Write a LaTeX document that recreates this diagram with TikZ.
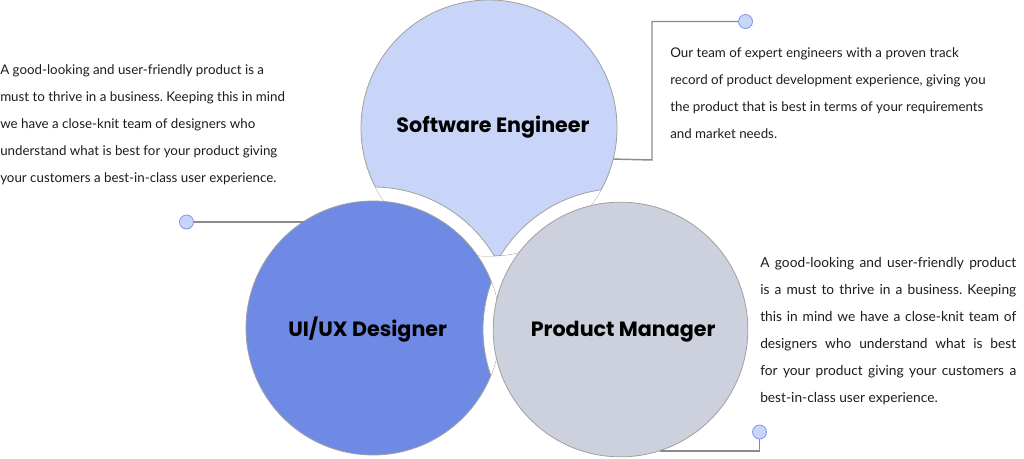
\documentclass[tikz,border=0pt]{standalone}
\usepackage{fontspec}
\setmainfont{Lato}
\newfontfamily\headfont{Poppins}
\usetikzlibrary{positioning}
\frenchspacing

\definecolor{sefill}{HTML}{C9D5F8}
\definecolor{uifill}{HTML}{6F8AE5}
\definecolor{pmfill}{HTML}{CDD1DD}
\definecolor{rimgray}{HTML}{A0A0A0}
\definecolor{linkgray}{HTML}{8C8C8C}
\definecolor{dotrim}{HTML}{7D95E8}
\definecolor{txtdark}{HTML}{1C1C1C}

\tikzset{
  bubble/.style={circle, draw=rimgray, line width=0.6pt, inner sep=0pt, minimum size=#1},
  headtxt/.style={text=black, font=\headfont\bfseries\fontsize{15.5}{18}\selectfont},
  gapring/.style={fill=white, draw=rimgray, line width=0.6pt},
  note/.style={anchor=north west, inner sep=0pt, align=left, text=txtdark,
    font=\fontsize{10}{20.25}\selectfont},
  dot/.style={circle, fill=sefill, draw=dotrim, line width=0.6pt, inner sep=0pt, minimum size=10.5pt},
  link/.style={draw=linkgray, line width=1.1pt}
}
\newcommand{\jline}[1]{\makebox[192pt][s]{#1}}

\begin{document}
\begin{tikzpicture}[x=0.75pt,y=-0.75pt]
\useasboundingbox (0,0) rectangle (1024,458);

% software engineer, cut by the two lower bubbles
\node[bubble=192pt, fill=sefill, label={[headtxt,xshift=3pt,yshift=0.5pt]center:Software Engineer}] (se) at (489,128) {};
\begin{scope}
\clip (489,128) circle (128);
\draw[gapring] (373,328) circle (141);
\draw[gapring] (620.5,329.5) circle (141);
\end{scope}

% ui/ux designer, cut by product manager
\node[bubble=190.5pt, fill=uifill, label={[headtxt,xshift=-4pt,yshift=-1.5pt]center:UI/UX Designer}] (ui) at (373,328) {};
\begin{scope}
\clip (373,328) circle (127);
\draw[gapring] (620.5,329.5) circle (137.5);
\end{scope}

% product manager
\node[bubble=191pt, fill=pmfill, label={[headtxt,xshift=2pt,yshift=-1.5pt]center:Product Manager}] (pm) at (620.5,329.5) {};

% dots and connectors
\node[dot] (sedot) at (745.5,21.5) {};
\node[dot] (uidot) at (186.5,222) {};
\node[dot] (pmdot) at (759.5,432) {};

\draw[link] (sedot) -| (652,160) -- (se.-14.5);
\draw[link] (uidot) -- (uidot -| ui.123.5);
\draw[link] (pmdot) |- (pm.-72.5);

% texts
\node[note] (uitxt) at (0,64) {A good-looking and user-friendly product is a\\
must to thrive in a business. Keeping this in mind\\
we have a close-knit team of designers who\\
understand what is best for your product giving\\
your customers a best-in-class user experience.};

\node[note] (setxt) at (670,47.5) {Our team of expert engineers with a proven track\\
record of product development experience, giving you\\
the product that is best in terms of your requirements\\
and market needs.};

\node[note, font=\fontsize{10.3}{20.25}\selectfont] (pmtxt) at (760,257.5) {\jline{A good-looking and user-friendly product}\\
\jline{is a must to thrive in a business. Keeping}\\
\jline{this in mind we have a close-knit team of}\\
\jline{designers who understand what is best}\\
\jline{for your product giving your customers a}\\
best-in-class user experience.};

\end{tikzpicture}
\end{document}
